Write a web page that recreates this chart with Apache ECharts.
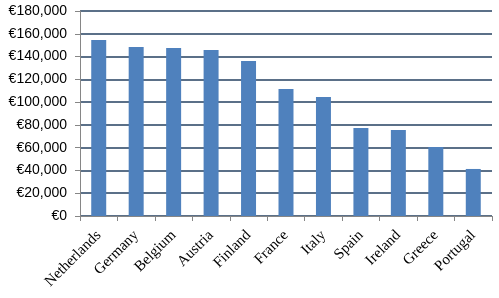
<!DOCTYPE html>
<html><head><meta charset="utf-8">
<script src="https://cdn.jsdelivr.net/npm/echarts@6/dist/echarts.min.js"></script>
<style>html,body{margin:0;padding:0;background:#fff}#c{width:499px;height:298px}</style>
</head><body><div id="c"></div>
<script>
var categories = ["Netherlands","Germany","Belgium","Austria","Finland","France","Italy","Spain","Ireland","Greece","Portugal"];
var values = [154500,148400,147500,145800,136100,111500,104500,77300,75500,60600,41300];
var yMin = 0, yMax = 180000, yStep = 20000;

var chart = echarts.init(document.getElementById('c'));
chart.setOption({
  animation:false,
  grid:{left:80,right:7,top:11,bottom:82},
  xAxis:{type:'category',data:categories,
    axisLine:{lineStyle:{color:'#868686',width:1}},
    axisTick:{show:true,alignWithLabel:false,length:5,lineStyle:{color:'#868686'}},
    axisLabel:{rotate:45,interval:0,color:'#000',fontFamily:'Liberation Serif',fontSize:15,margin:17}},
  yAxis:{type:'value',min:yMin,max:yMax,interval:yStep,
    axisLine:{show:true,lineStyle:{color:'#868686',width:1}},
    axisTick:{show:true,length:5,lineStyle:{color:'#868686'}},
    splitLine:{lineStyle:{color:'#254061',width:1.5}},
    axisLabel:{color:'#000',fontFamily:'Liberation Sans',fontSize:14,margin:13,
      formatter:function(v){return '€'+v.toLocaleString('en-US');}}},
  series:[{type:'bar',data:values,barWidth:'40%',itemStyle:{color:'#4F81BD'}}]
});
</script></body></html>
